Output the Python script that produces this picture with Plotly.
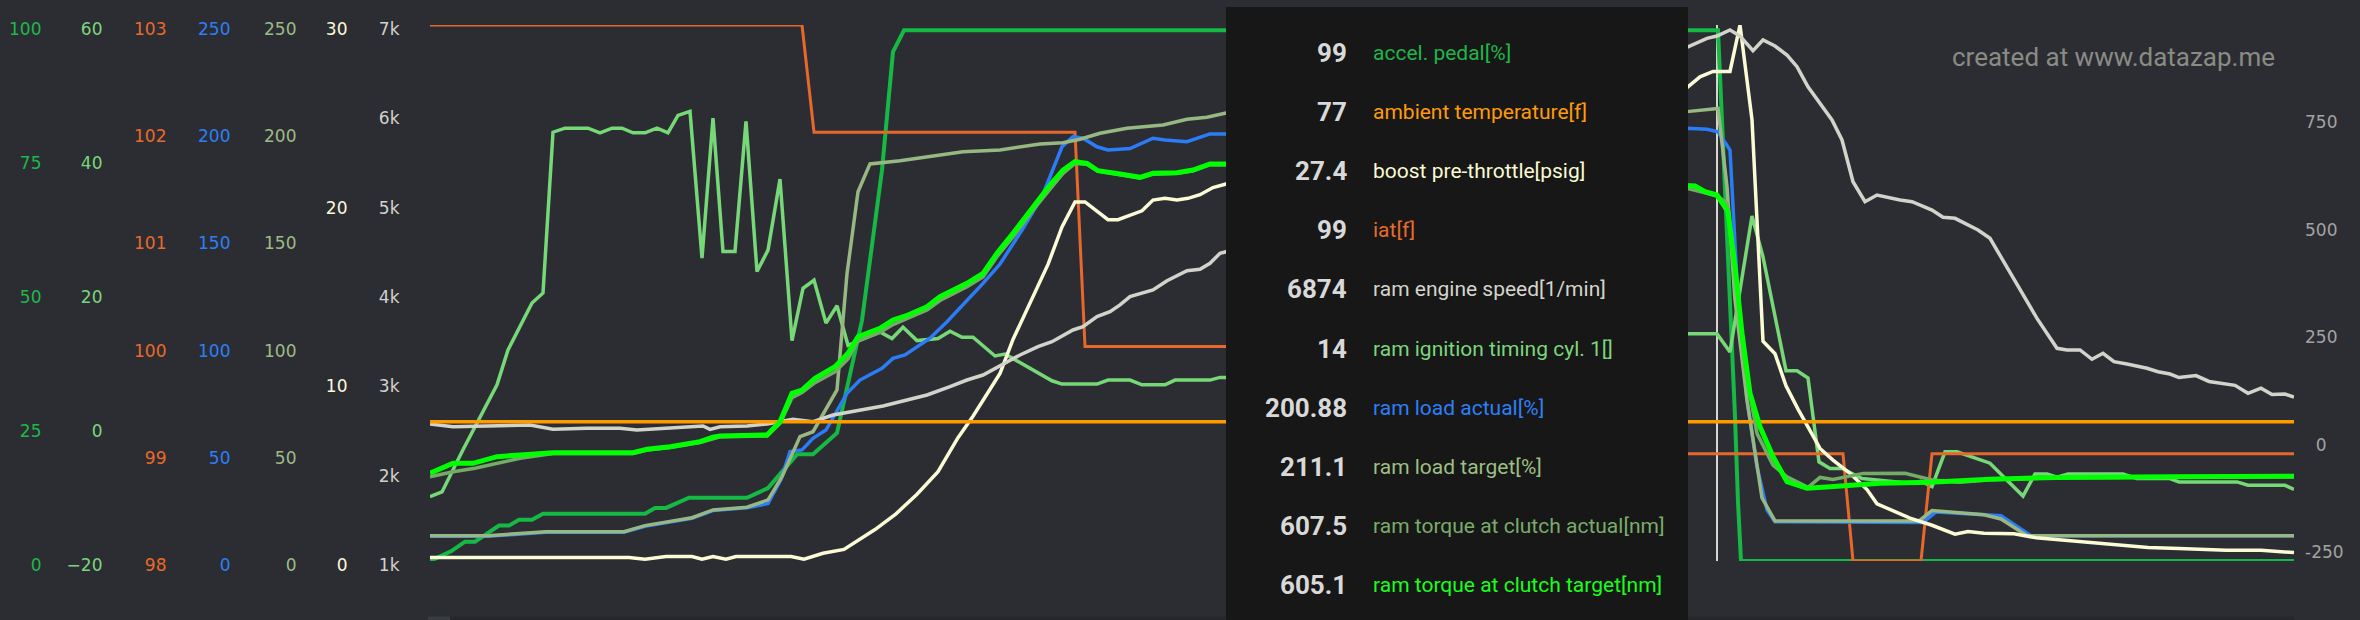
import plotly.graph_objects as go

# ---------------- data (time in s, values per channel) ----------------
accel_t = [0.00, 0.21, 0.35, 0.45, 0.69, 0.79, 0.89, 1.02, 1.13, 2.15, 2.25, 2.36, 2.59, 3.17, 3.38,
           3.67, 3.83, 4.07, 4.32, 4.52, 4.63, 4.74, 12.88, 12.93, 13.00, 13.05, 13.08, 13.11, 18.64]
accel_v = [0, 1.8, 3.6, 3.6, 6.6, 6.6, 7.7, 7.7, 8.8, 8.8, 9.9, 9.9, 11.8, 11.8, 13.6,
           19.9, 19.9, 23.9, 44.9, 72.9, 95, 99, 99, 78, 49, 27, 11, 0, 0]

ambient_t = [0.0, 18.64]
ambient_v = [77, 77]

boost_t = [0, 1.99, 2.15, 2.36, 2.62, 2.72, 2.83, 2.96, 3.06, 3.61, 3.74, 3.93, 4.14, 4.24, 4.45,
           4.66, 4.77, 4.87, 5.08, 5.28, 5.43, 5.57, 5.70, 5.83, 5.97, 6.18, 6.32, 6.45, 6.55, 6.67,
           6.78, 6.88, 7.12, 7.23, 7.35, 7.47, 7.58, 7.70, 7.83, 7.96,
           12.57, 12.70, 12.83, 13.00, 13.10, 13.22, 13.28, 13.33, 13.45, 13.56, 13.68, 13.80, 13.90,
           14.03, 14.20, 14.37, 14.47, 14.80, 15.02, 15.25, 15.38, 15.54, 15.84, 16.06, 16.40, 16.62,
           16.84, 17.18, 17.49, 17.96, 18.31, 18.64]
boost_v = [0.2, 0.2, 0.1, 0.25, 0.25, 0.1, 0.25, 0.1, 0.25, 0.25, 0.1, 0.43, 0.65, 1.0, 1.76,
           2.64, 3.2, 3.74, 5.0, 6.9, 8.1, 9.3, 10.5, 12.4, 14.1, 16.6, 18.7, 20.1, 20.1, 19.6,
           19.1, 19.1, 19.6, 20.2, 20.3, 20.2, 20.3, 20.5, 20.9, 21.1,
           26.5, 27.1, 27.4, 27.4, 30.0, 24.7, 18.4, 12.3, 11.6, 9.8, 8.5, 7.3, 6.3,
           5.65, 4.9, 4.0, 3.2, 2.4, 2.0, 1.5, 1.65, 1.55, 1.53, 1.3, 1.14, 1.05,
           0.9, 0.76, 0.7, 0.6, 0.6, 0.47]

iat_t = [0, 3.72, 3.84, 6.45, 6.55, 10.20, 10.30, 14.13, 14.23, 14.91, 15.02, 18.64]
iat_v = [103, 103, 102, 102, 100, 100, 99, 99, 98, 98, 99, 99]

rpm_t = [0, 0.23, 1.00, 1.23, 1.57, 1.90, 2.07, 2.57, 2.73, 2.80, 2.90, 3.17, 3.37, 3.63, 3.83,
         4.03, 4.23, 4.53, 4.77, 4.97, 5.20, 5.37, 5.53, 5.70, 5.90, 6.08, 6.22, 6.43, 6.53, 6.67,
         6.80, 6.90, 7.00, 7.23, 7.37, 7.57, 7.70, 7.80, 7.90, 7.96,
         12.57, 12.77, 12.87, 13.00, 13.10, 13.23, 13.33, 13.45, 13.57, 13.67, 13.78, 13.90, 14.02,
         14.12, 14.23, 14.35, 14.47, 14.70, 14.82, 15.02, 15.13, 15.25, 15.48, 15.60, 15.73, 15.90,
         16.07, 16.27, 16.37, 16.50, 16.62, 16.73, 16.84, 16.97, 17.17, 17.28, 17.40, 17.49, 17.66,
         17.79, 18.05, 18.18, 18.31, 18.42, 18.55, 18.64]
rpm_v = [2533, 2503, 2522, 2474, 2485, 2485, 2466, 2497, 2511, 2474, 2503, 2511, 2533, 2586, 2559,
         2634, 2671, 2735, 2802, 2858, 2951, 3026, 3082, 3183, 3306, 3399, 3455, 3586, 3623, 3735,
         3791, 3866, 3959, 4034, 4138, 4250, 4265, 4332, 4444, 4462,
         6757, 6850, 6877, 6944, 6877, 6712, 6832, 6765, 6664, 6533, 6309, 6123, 5937,
         5713, 5246, 5022, 5097, 5041, 5022, 4929, 4847, 4836, 4705, 4612, 4369, 4034,
         3716, 3381, 3362, 3362, 3258, 3325, 3231, 3205, 3157, 3119, 3093, 3054, 3076,
         3010, 2966, 2877, 2935, 2864, 2869, 2834]

ign_t = [0, 0.12, 0.33, 0.67, 0.78, 1.02, 1.13, 1.23, 1.35, 1.58, 1.70, 1.82, 1.92, 2.03, 2.15,
         2.27, 2.38, 2.48, 2.60, 2.72, 2.83, 2.93, 3.05, 3.16, 3.27, 3.38, 3.50, 3.62, 3.73, 3.84,
         3.96, 4.07, 4.18, 4.50, 4.62, 4.73, 4.87, 5.08, 5.20, 5.32, 5.43, 5.65, 5.75, 6.22, 6.32,
         6.67, 6.78, 7.00, 7.12, 7.35, 7.45, 7.80, 7.90, 7.96,
         12.57, 12.87, 13.00, 13.22, 13.33, 13.56, 13.67, 13.78, 13.89, 14.00, 14.12, 14.32, 14.80,
         14.91, 15.02, 15.15, 15.27, 15.60, 15.72, 15.93, 16.05, 16.17, 16.27, 16.38, 16.93, 17.07,
         17.40, 17.49, 18.07, 18.18, 18.55, 18.64]
ign_v = [-10.4, -9.7, -3.4, 6.3, 11.5, 18.5, 20.0, 44.0, 44.6, 44.6, 43.9, 44.6, 44.6, 43.9, 43.9,
         44.6, 43.9, 46.5, 47.1, 25.2, 46.1, 26.2, 26.2, 45.6, 23.2, 26.4, 37.0, 12.9, 20.7, 21.9,
         15.5, 18.1, 12.2, 14.2, 13.2, 14.9, 12.9, 13.2, 14.3, 13.4, 13.4, 10.6, 10.9, 6.9, 6.4,
         6.4, 7.0, 7.0, 6.3, 6.3, 7.0, 7.0, 7.4, 7.4,
         13.9, 13.9, 11.2, 31.5, 25.4, 8.4, 8.4, 7.3, -5.2, -6.2, -6.2, -7.7, -8.4,
         -8.1, -8.9, -3.7, -3.7, -5.4, -7.2, -10.3, -7.0, -7.0, -7.5, -7.0, -7.0, -7.7,
         -7.7, -8.2, -8.2, -8.7, -8.7, -9.3]

load_act_t = [0, 0.58, 1.16, 1.94, 2.15, 2.62, 2.83, 3.17, 3.38, 3.51, 3.60, 3.72, 3.83, 3.96, 4.17,
              4.30, 4.52, 4.63, 4.75, 4.87, 5.00, 5.17, 5.33, 5.53, 5.70, 5.92, 6.12, 6.32, 6.43, 6.53,
              6.67, 6.78, 7.00, 7.23, 7.35, 7.57, 7.80, 7.96,
              12.57, 12.77, 12.88, 13.00, 13.08, 13.17, 13.27, 13.37, 13.45, 14.93, 15.06, 15.71, 16.01,
              18.64]
load_act_v = [11.5, 11.5, 13.4, 13.4, 16.2, 19.9, 23.5, 24.8, 26.8, 38.0, 51.0, 51.8, 57.2, 61.1, 78.2,
              84.4, 89.9, 94.5, 96.1, 100.0, 103.9, 111.6, 119.4, 129.5, 138.5, 154.4, 169.9, 193.2, 197.9, 197.2,
              193.2, 191.7, 192.4, 197.2, 196.4, 195.6, 199.2, 199.2,
              201.8, 201.4, 200.2, 191.7, 121.7, 75.0, 44.0, 23.8, 18.3, 18.0, 22.9, 21.1, 11.8,
              11.8]

load_tgt_t = [0, 0.58, 1.16, 1.94, 2.15, 2.62, 2.83, 3.17, 3.38, 3.52, 3.70, 3.83, 4.07, 4.17, 4.28,
              4.40, 4.70, 5.03, 5.33, 5.70, 5.83, 6.10, 6.33, 6.50, 6.70, 6.97, 7.33, 7.57, 7.77, 7.96,
              12.57, 12.88, 12.97, 13.05, 13.17, 13.27, 13.32, 13.45, 14.89, 15.02, 15.54, 15.71, 15.97,
              18.64]
load_tgt_v = [11.8, 11.8, 13.7, 13.7, 16.5, 20.2, 23.8, 25.1, 28.5, 39.3, 58.0, 60.3, 79.8, 134.0, 172.2,
              185.2, 186.7, 188.9, 190.9, 191.7, 192.5, 194.5, 195.1, 196.7, 199.5, 201.8, 203.4, 206.0, 207.0, 208.9,
              209.6, 211.1, 174.6, 121.7, 75.1, 44.0, 29.4, 18.7, 18.7, 23.5, 21.6, 19.6, 11.8,
              11.8]

trq_act_t = [0, 0.23, 0.45, 0.67, 0.90, 1.23, 2.03, 2.17, 2.40, 2.70, 2.90, 3.37, 3.50, 3.62, 3.72,
             3.85, 4.05, 4.18, 4.28, 4.50, 4.63, 4.78, 4.97, 5.10, 5.37, 5.53, 5.67, 5.83, 6.03, 6.20,
             6.33, 6.45, 6.57, 6.68, 6.90, 7.10, 7.23, 7.47, 7.63, 7.80, 7.96,
             12.57, 12.77, 12.88, 12.97, 13.07, 13.15, 13.27, 13.43, 13.57, 13.78, 13.90, 14.03, 14.23,
             14.33, 14.75, 15.02, 15.30, 15.60, 16.27, 16.84, 17.40, 18.64]
trq_act_v = [-84, -72.3, -64.3, -52.7, -41.1, -30, -30, -22, -16, -4.5, 9, 11, 40, 100, 112,
             135, 160, 190, 232, 252, 270, 285, 304, 326, 358, 381, 428, 474, 536, 585,
             622, 645, 643, 627, 619, 611, 620, 622, 628, 642, 642,
             587, 575.4, 567.6, 552.2, 366, 172, 17, -56.7, -84, -108.7, -85.5, -90.1, -80.1,
             -76.2, -76, -91.6, -97, -91, -86.5, -86.7, -85, -84]

trq_tgt_t = [0, 0.12, 0.23, 0.43, 0.67, 0.90, 1.23, 2.03, 2.17, 2.40, 2.70, 2.83, 2.90, 3.37, 3.50,
             3.62, 3.72, 3.85, 4.05, 4.18, 4.28, 4.50, 4.63, 4.78, 4.97, 5.10, 5.37, 5.53, 5.67, 5.83,
             6.03, 6.20, 6.33, 6.45, 6.57, 6.68, 6.90, 7.10, 7.23, 7.47, 7.63, 7.80, 7.96,
             12.57, 12.65, 12.75, 12.87, 12.98, 13.05, 13.12, 13.20, 13.30, 13.43, 13.57, 13.77, 14.00,
             14.23, 14.50, 15.00, 15.60, 16.27, 16.84, 17.40, 18.64]
trq_tgt_v = [-76, -64.3, -52.7, -52.7, -37.3, -33.4, -28, -28, -20.1, -14.1, -2.4, 7.8, 11, 13.1, 44,
             110, 117.8, 145, 172, 203.2, 241.8, 261.3, 280.7, 292.3, 311.7, 335, 366, 389.3, 435.8, 482.3,
             544.2, 594.7, 629.6, 649, 645, 628, 620.3, 612.6, 621.9, 623.4, 629.6, 643.6, 643.6,
             594.7, 592.4, 579.2, 571.5, 532.7, 404.8, 249.8, 110.3, 32.6, -37.1, -95.3, -110.7, -107,
             -103, -99.2, -97, -90, -85.5, -85.7, -84, -83]

hover_time = 12.87
tooltip_values = ["99", "77", "27.4", "99", "6874", "14", "200.88", "211.1", "607.5", "605.1"]
tooltip_labels = ["accel. pedal[%]", "ambient temperature[f]", "boost pre-throttle[psig]", "iat[f]",
                  "ram engine speed[1/min]", "ram ignition timing cyl. 1[]", "ram load actual[%]",
                  "ram load target[%]", "ram torque at clutch actual[nm]", "ram torque at clutch target[nm]"]

# axis ticks
accel_ticks = [0, 25, 50, 75, 100]
ign_ticks = [-20, 0, 20, 40, 60]
iat_ticks = [98, 99, 100, 101, 102, 103]
load_ticks = [0, 50, 100, 150, 200, 250]
boost_ticks = [0, 10, 20, 30]
rpm_ticks = [1000, 2000, 3000, 4000, 5000, 6000, 7000]
rpm_ticktext = ["1k", "2k", "3k", "4k", "5k", "6k", "7k"]
trq_ticks = [-250, 0, 250, 500, 750]
trq_ticktext = ["-250", "\u20070", "250", "500", "750"]

# ---------------- style ----------------
W, H = 2360, 620
BG = "#2c2d33"
TIP_BG = "#171717"
plot_left, plot_right = 430, 2294
plot_top, plot_bottom = 25, 561
TICKFONT = "DejaVu Sans"
TICKSIZE = 17
TIPFONT = "Roboto"
LABEL_SHIFT = 4

series = [
    # name, t, v, axis, color, width, label color
    ("accel", accel_t, accel_v, "y", "#15b943", 4, "#20b54b"),
    ("ambient", ambient_t, ambient_v, "y8", "#ff9900", 3.5, "#ff9a0a"),
    ("boost", boost_t, boost_v, "y6", "#fbfbd6", 3.5, "#fafad2"),
    ("iat", iat_t, iat_v, "y3", "#e6682a", 3, "#e86a2c"),
    ("rpm", rpm_t, rpm_v, "y7", "#d3d3cc", 3.5, "#d4d4cc"),
    ("ign", ign_t, ign_v, "y2", "#77d877", 3.5, "#7bd67b"),
    ("load_act", load_act_t, load_act_v, "y4", "#2a7df6", 3.5, "#2d7ff9"),
    ("load_tgt", load_tgt_t, load_tgt_v, "y5", "#97b882", 3.5, "#9cbf84"),
    ("trq_act", trq_act_t, trq_act_v, "y9", "#74ab66", 3.5, "#7aab6c"),
    ("trq_tgt", trq_tgt_t, trq_tgt_v, "y9", "#00ff00", 5, "#1aff1a"),
]

fig = go.Figure()
for name, t, v, ax, col, wd, _ in series:
    fig.add_trace(go.Scatter(x=t, y=v, yaxis=ax, mode="lines", name=name,
                             line=dict(color=col, width=wd), hoverinfo="skip"))

dom = [(H - plot_bottom) / H, (H - plot_top) / H]
GAP = 0.5


def left_axis(edge_px, rng, tickvals, color, ticktext=None, overlay=True):
    d = dict(range=rng, tickvals=tickvals, anchor="free", position=(edge_px + GAP) / W,
             side="left", showgrid=False, zeroline=False, showline=False, ticks="",
             ticklabelshift=LABEL_SHIFT,
             tickfont=dict(family=TICKFONT, size=TICKSIZE, color=color),
             automargin=False, fixedrange=True)
    if ticktext is not None:
        d["ticktext"] = ticktext
    if overlay:
        d["overlaying"] = "y"
    else:
        d["domain"] = dom
    return d


layout = dict(
    width=W, height=H, margin=dict(l=0, r=0, t=0, b=0, pad=0),
    paper_bgcolor=BG, plot_bgcolor=BG, showlegend=False, hovermode=False,
    template="none",
    xaxis=dict(domain=[plot_left / W, plot_right / W], range=[0, 18.64], visible=False,
               anchor="y", fixedrange=True, automargin=False),
    yaxis=left_axis(41, [0, 100], accel_ticks, "#1eb84a", overlay=False),
    yaxis2=left_axis(102, [-20, 60], ign_ticks, "#7bd67b"),
    yaxis3=left_axis(166, [98, 103], iat_ticks, "#e8692a"),
    yaxis4=left_axis(230, [0, 250], load_ticks, "#2d7ff5"),
    yaxis5=left_axis(296, [0, 250], load_ticks, "#9dbb85"),
    yaxis6=left_axis(347, [0, 30], boost_ticks, "#fbfad8"),
    yaxis7=left_axis(399, [1000, 7000], rpm_ticks, "#d2d2ca", ticktext=rpm_ticktext),
    yaxis8=dict(range=[74.4, 84.4], overlaying="y", visible=False, anchor="free", position=0,
                fixedrange=True, automargin=False),
    yaxis9=dict(range=[-280, 967], tickvals=trq_ticks, ticktext=trq_ticktext, overlaying="y",
                side="right", anchor="free", position=plot_right / W, showgrid=False,
                zeroline=False, showline=False, ticks="", ticklabelstandoff=10,
                ticklabelshift=LABEL_SHIFT,
                tickfont=dict(family=TICKFONT, size=TICKSIZE, color="#a3a3a0"),
                automargin=False, fixedrange=True),
)
fig.update_layout(**layout)

# hover cursor line
fig.add_shape(type="line", xref="x", yref="paper", x0=hover_time, x1=hover_time,
              y0=dom[0], y1=dom[1], line=dict(color="#d6d6d0", width=2), layer="below")

# bottom scrollbar strip
fig.add_shape(type="rect", xref="paper", yref="paper", x0=428 / W, x1=plot_right / W,
              y0=0, y1=3.5 / H, fillcolor="#26272b", line=dict(width=0), layer="above")
fig.add_shape(type="rect", xref="paper", yref="paper", x0=428 / W, x1=450 / W,
              y0=0, y1=3.5 / H, fillcolor="#393c41", line=dict(width=0), layer="above")

# tooltip box
tip_x0, tip_x1, tip_top = 1226, 1688, 7
fig.add_shape(type="rect", xref="paper", yref="paper", x0=tip_x0 / W, x1=tip_x1 / W,
              y0=0, y1=1 - tip_top / H, fillcolor=TIP_BG, line=dict(width=0), layer="above")

row0, row_step = 53, 59.1
val_right, lab_left = 1349, 1371
for i, (val, lab) in enumerate(zip(tooltip_values, tooltip_labels)):
    yy = 1 - (row0 + row_step * i) / H
    fig.add_annotation(x=val_right / W, y=yy, xref="paper", yref="paper", xanchor="right",
                       yanchor="middle", showarrow=False, text="<b>" + val + "</b>",
                       font=dict(family=TIPFONT, size=26, color="#d9d9d9"))
    fig.add_annotation(x=lab_left / W, y=yy, xref="paper", yref="paper", xanchor="left",
                       yanchor="middle", showarrow=False, text=lab,
                       font=dict(family=TIPFONT, size=21, color=series[i][6]))

# watermark
fig.add_annotation(x=2277 / W, y=1 - 57 / H, xref="paper", yref="paper", xanchor="right",
                   yanchor="middle", showarrow=False, text="created at www.datazap.me",
                   font=dict(family=TIPFONT, size=26, color="#8a8b85"))

fig.write_html("out.html")
